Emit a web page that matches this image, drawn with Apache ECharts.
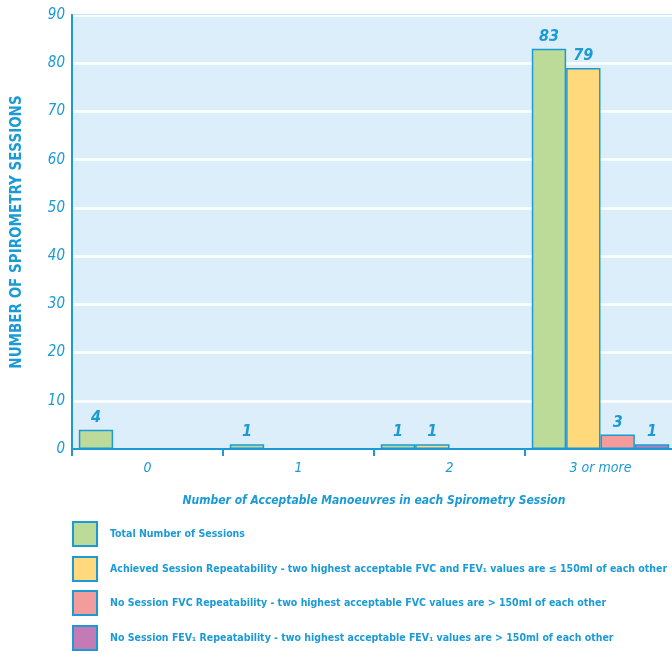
<!DOCTYPE html>
<html><head><meta charset="utf-8">
<script src="https://cdn.jsdelivr.net/npm/echarts@6/dist/echarts.min.js"></script>
<style>html,body{margin:0;padding:0;background:#fff}#c{width:672px;height:652px}</style>
</head><body><div id="c"></div>
<script>
var categories = ['0', '1', '2', '3 or more'];
var totalSessions = [4, 1, 1, 83];
var achievedRepeatability = [null, null, 1, 79];
var noFvcRepeatability = [null, null, null, 3];
var noFev1Repeatability = [null, null, null, 1];
var seriesNames = [
  'Total Number of Sessions',
  'Achieved Session Repeatability - two highest acceptable FVC and FEV\u2081 values are \u2264 150ml of each other',
  'No Session FVC Repeatability - two highest acceptable FVC values are > 150ml of each other',
  'No Session FEV\u2081 Repeatability - two highest acceptable FEV\u2081 values are > 150ml of each other'
];
var BLUE = '#1b9ad6';
var FONT = "'DejaVu Sans Condensed','Liberation Sans Narrow','Liberation Sans',sans-serif";
var colors = ['#bddb98', '#ffd97c', '#f39c9b', '#c47bb5'];
var datas = [totalSessions, achievedRepeatability, noFvcRepeatability, noFev1Repeatability];
var series = datas.map(function (d, i) {
  return {
    name: seriesNames[i], type: 'bar', data: d,
    barGap: 0, barCategoryGap: '9%',
    itemStyle: { color: colors[i], borderColor: BLUE, borderWidth: 1.5 },
    label: { show: true, position: 'top', color: BLUE, fontFamily: FONT, fontSize: 16,
      fontWeight: 'bold', fontStyle: 'italic', distance: 4 }
  };
});
var legendTops = [521, 556, 590, 625];
var legends = seriesNames.map(function (n, i) {
  return {
    type: 'plain', orient: 'horizontal', left: 72, top: legendTops[i], width: 600, height: 28, padding: 0,
    itemWidth: 24, itemHeight: 24, itemGap: 0,
    icon: 'rect',
    textStyle: { color: BLUE, fontFamily: FONT, fontSize: 10.5, fontWeight: 'bold', padding: [0, 0, 0, 8] },
    data: [n]
  };
});
var chart = echarts.init(document.getElementById('c'));
chart.setOption({
  animation: false,
  backgroundColor: '#fff',
  grid: { left: 72, right: -4, top: 15, bottom: 203, show: true, containLabel: false,
    outerBoundsMode: 'none',
    backgroundColor: '#dbeef9', borderColor: BLUE, borderWidth: 2 },
  legend: legends,
  xAxis: {
    type: 'category', data: categories,
    name: 'Number of Acceptable Manoeuvres in each Spirometry Session',
    nameLocation: 'middle', nameGap: 46,
    nameTextStyle: { color: BLUE, fontFamily: FONT, fontSize: 12, fontWeight: 'bold', fontStyle: 'italic' },
    axisLine: { lineStyle: { color: BLUE, width: 2 } },
    axisTick: { show: true, length: 7, lineStyle: { color: BLUE, width: 2 } },
    axisLabel: { color: BLUE, fontFamily: FONT, fontSize: 14, fontStyle: 'italic', margin: 12 }
  },
  yAxis: {
    type: 'value', min: 0, max: 90, interval: 10,
    name: 'NUMBER OF SPIROMETRY SESSIONS', nameLocation: 'middle', nameGap: 47, nameRotate: 90,
    nameTextStyle: { color: BLUE, fontFamily: FONT, fontSize: 15, fontWeight: 'bold' },
    axisLine: { show: true, lineStyle: { color: BLUE, width: 2 } },
    axisTick: { show: false },
    axisLabel: { color: BLUE, fontFamily: FONT, fontSize: 15, fontStyle: 'italic', margin: 7 },
    splitLine: { show: true, lineStyle: { color: '#ffffff', width: 2.5 } }
  },
  series: series
});
</script></body></html>
